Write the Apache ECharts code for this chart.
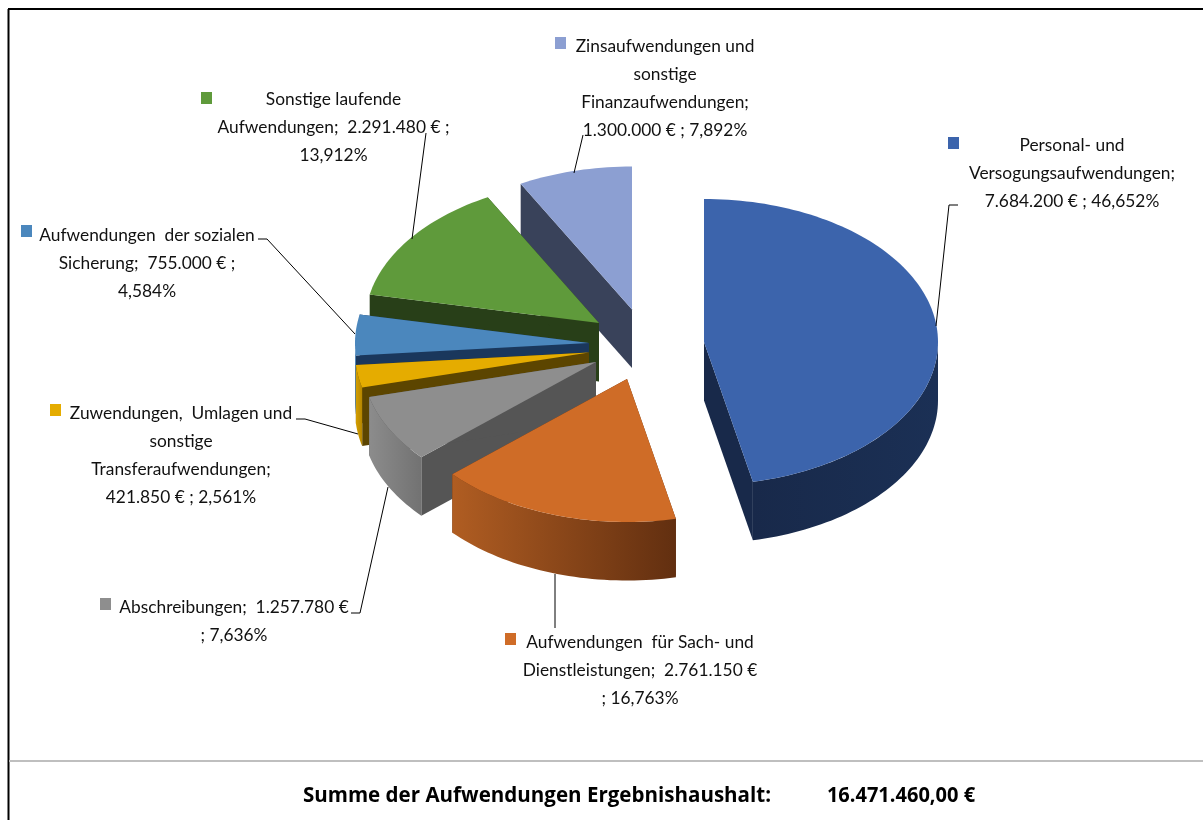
<!DOCTYPE html>
<html>
<head>
<meta charset="utf-8">
<style>html,body{margin:0;padding:0;background:#fff}#c{width:1203px;height:820px}</style>
<script src="https://cdn.jsdelivr.net/npm/echarts@6/dist/echarts.min.js"></script>
</head>
<body>
<div id="c"></div>
<script>
// --- data ---
const categories = [
  'Personal- und Versogungsaufwendungen',
  'Aufwendungen für Sach- und Dienstleistungen',
  'Abschreibungen',
  'Zuwendungen, Umlagen und sonstige Transferaufwendungen',
  'Aufwendungen der sozialen Sicherung',
  'Sonstige laufende Aufwendungen',
  'Zinsaufwendungen und sonstige Finanzaufwendungen'
];
const values = [7684200, 2761150, 1257780, 421850, 755000, 2291480, 1300000];
const labelLines = [
  ['Personal- und', 'Versogungsaufwendungen;', '7.684.200 € ; 46,652%'],
  ['Aufwendungen  für Sach- und', 'Dienstleistungen;  2.761.150 €', '; 16,763%'],
  ['Abschreibungen;  1.257.780 €', '; 7,636%'],
  ['Zuwendungen,  Umlagen und', 'sonstige', 'Transferaufwendungen;', '421.850 € ; 2,561%'],
  ['Aufwendungen  der sozialen', 'Sicherung;  755.000 € ;', '4,584%'],
  ['Sonstige laufende', 'Aufwendungen;  2.291.480 € ;', '13,912%'],
  ['Zinsaufwendungen und', 'sonstige', 'Finanzaufwendungen;', '1.300.000 € ; 7,892%']
];
const totalLabel = 'Summe der Aufwendungen Ergebnishaushalt:';
const totalValue = '16.471.460,00 €';

// --- layout & style ---
const RX = 234, RY = 143, DEPTH = 58.5;
const apex = [[704,342],[627,379],[596,362],[589,352.5],[589,343],[599,323],[632,309.5]];
const drawOrder = [6,5,4,3,2,1,0];          // back to front
const topColor = ['#3C64AC','#CF6C27','#8E8E8E','#E5AC00','#4B87BD','#5F9A3B','#8C9FD2'];
const cutColor = ['#18294A','#5F2F10','#555555','#5C4500','#1A375C','#283F18','#39425A'];
const rimColor = [['#18294A','#1B3055'],['#B05D22','#622F10'],['#8C8C8C','#727272'],['#D49E00','#B58600'],['#3F78AC','#3F78AC'],['#283F18','#283F18'],['#39425A','#39425A']];
const labelBox = [
  {cx:1072, y:146, key:[948,137]}, {cx:640, y:643, key:[505,633]}, {cx:234, y:608, key:[100,598]},
  {cx:181, y:414, key:[50,404]},   {cx:147, y:236, key:[21,225]},  {cx:333.5, y:100, key:[201,92]},
  {cx:665, y:47,  key:[555,37]}
];
const leaders = [
  [[936,326],[949,205],[958,205]],
  [[555,574],[555,628]],
  [[388,487],[360,613],[351,613]],
  [[358,434],[305,419],[296,419]],
  [[355,334],[267,239],[258,239]],
  [[412,239],[426,133]],
  [[574,173],[583,135]]
];
const LINE = 27.8, FONT = '17px Lato', TEXT_SCALE = 1.02;

// angles, clockwise from 12 o'clock, derived from the values
const total = values.reduce((a,b)=>a+b,0);
const starts = []; { let c=0; values.forEach(v=>{starts.push(c/total*360); c+=v;}); }

function rim(a, i, dy){
  const r = a*Math.PI/180;
  return [apex[i][0]+RX*Math.sin(r), apex[i][1]-RY*Math.cos(r)+(dy||0)];
}
function arc(a0,a1,i,dy){
  const n = Math.max(2,Math.ceil((a1-a0)/1.5)), p=[];
  for(let k=0;k<=n;k++) p.push(rim(a0+(a1-a0)*k/n,i,dy));
  return p;
}
function poly(points, fill, z){
  return {type:'polygon', shape:{points}, style:{fill}, z2:z, silent:true};
}
function renderSlice(params, api){
  const i = api.value(1), frac = api.value(0)/total;
  const a0 = starts[i], a1 = a0+frac*360;
  const rank = drawOrder.indexOf(i)*10;
  const A = apex[i], kids = [];
  const below = p=>[p[0],p[1]+DEPTH];
  [a0,a1].forEach(a=>{
    const e = rim(a,i);
    kids.push(poly([A,e,below(e),below(A)],cutColor[i],rank+1));
  });
  const w0 = Math.max(a0,90), w1 = Math.min(a1,270);
  if(w1>w0){
    const top = arc(w0,w1,i), bot = arc(w0,w1,i,DEPTH).reverse();
    const c = rimColor[i];
    kids.push(poly(top.concat(bot),{type:'linear',x:0,y:0,x2:1,y2:0,colorStops:[{offset:0,color:c[0]},{offset:1,color:c[1]}]},rank+2));
  }
  kids.push(poly([A].concat(arc(a0,a1,i)),topColor[i],rank+3));
  return {type:'group',children:kids};
}
function renderLabel(params, api){
  const i = api.value(1), b = labelBox[i], kids = [];
  kids.push({type:'polyline',shape:{points:leaders[i]},style:{stroke:'#000',lineWidth:1,fill:null},z2:100,silent:true});
  kids.push({type:'rect',shape:{x:b.key[0],y:b.key[1],width:11,height:12},style:{fill:topColor[i]},z2:101,silent:true});
  labelLines[i].forEach((t,k)=>{
    kids.push({type:'text',x:b.cx,y:b.y+k*LINE,scaleX:TEXT_SCALE,
      style:{text:t,x:0,y:0,align:'center',verticalAlign:'middle',font:FONT,fill:'#111'},z2:102,silent:true});
  });
  return {type:'group',children:kids};
}
const sliceData = values.map((v,i)=>({name:categories[i],value:[v,i]}));

const chart = echarts.init(document.getElementById('c'),null,{renderer:'canvas'});
chart.setOption({
  animation:false,
  backgroundColor:'#fff',
  graphic:[
    {type:'line',shape:{x1:8.5,y1:9,x2:8.5,y2:820},style:{stroke:'#000',lineWidth:2},silent:true},
    {type:'line',shape:{x1:8,y1:9,x2:1203,y2:9},style:{stroke:'#000',lineWidth:2},silent:true},
    {type:'line',shape:{x1:9,y1:761,x2:1203,y2:761},style:{stroke:'#BFBFBF',lineWidth:2},silent:true},
    {type:'text',x:537,y:796,scaleX:0.934,style:{text:totalLabel,x:0,y:0,align:'center',verticalAlign:'middle',font:'bold 22px "Open Sans"',fill:'#000'},silent:true},
    {type:'text',x:901,y:796,scaleX:0.91,style:{text:totalValue,x:0,y:0,align:'center',verticalAlign:'middle',font:'bold 22px "Open Sans"',fill:'#000'},silent:true}
  ],
  series:[
    {type:'custom',coordinateSystem:'none',renderItem:renderSlice,data:sliceData,silent:true,z:2},
    {type:'custom',coordinateSystem:'none',renderItem:renderLabel,data:sliceData,silent:true,z:3}
  ]
});
</script>
</body>
</html>
